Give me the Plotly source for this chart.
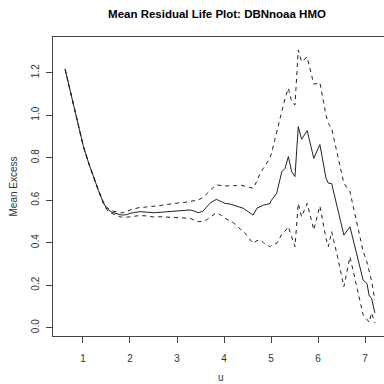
import plotly.graph_objects as go

u = [0.62, 0.70, 0.79, 0.90, 1.01, 1.12, 1.22, 1.33, 1.43, 1.50, 1.60, 1.72, 1.82, 1.93,
     2.00, 2.10, 2.21, 2.35, 2.50, 2.64, 2.78, 2.92, 3.06, 3.17, 3.28, 3.38, 3.45, 3.55,
     3.63, 3.70, 3.77, 3.84, 3.93, 4.02, 4.13, 4.20, 4.27, 4.34, 4.41, 4.52, 4.62, 4.70,
     4.77, 4.84, 4.91, 4.98, 5.01, 5.12, 5.23, 5.30, 5.37, 5.44, 5.51, 5.58, 5.65, 5.77,
     5.91, 6.04, 6.17, 6.22, 6.29, 6.42, 6.55, 6.68, 6.82, 6.96, 7.04, 7.09, 7.14, 7.21]

mean_excess = [1.216, 1.140, 1.056, 0.950, 0.852, 0.775, 0.711, 0.645, 0.590, 0.562, 0.545, 0.535, 0.530, 0.532,
               0.538, 0.542, 0.546, 0.544, 0.541, 0.543, 0.546, 0.548, 0.551, 0.553, 0.554, 0.548, 0.541, 0.548,
               0.569, 0.585, 0.596, 0.604, 0.595, 0.585, 0.582, 0.577, 0.575, 0.569, 0.562, 0.545, 0.530, 0.562,
               0.570, 0.577, 0.580, 0.585, 0.600, 0.632, 0.734, 0.750, 0.805, 0.734, 0.711, 0.946, 0.887, 0.927,
               0.797, 0.862, 0.703, 0.680, 0.679, 0.560, 0.436, 0.475, 0.350, 0.224, 0.209, 0.150, 0.138, 0.070]

upper_ci = [1.218, 1.142, 1.058, 0.952, 0.854, 0.777, 0.714, 0.648, 0.594, 0.567, 0.551, 0.543, 0.540, 0.545,
            0.554, 0.560, 0.566, 0.568, 0.570, 0.575, 0.580, 0.585, 0.588, 0.590, 0.593, 0.597, 0.601, 0.612,
            0.630, 0.645, 0.660, 0.672, 0.669, 0.667, 0.668, 0.668, 0.669, 0.672, 0.668, 0.660, 0.656, 0.690,
            0.727, 0.750, 0.774, 0.800, 0.821, 0.920, 1.025, 1.080, 1.127, 1.063, 1.048, 1.307, 1.252, 1.274,
            1.146, 1.153, 1.000, 0.962, 0.938, 0.800, 0.679, 0.640, 0.500, 0.360, 0.310, 0.270, 0.220, 0.130]

lower_ci = [1.214, 1.138, 1.054, 0.948, 0.850, 0.773, 0.708, 0.642, 0.586, 0.557, 0.539, 0.527, 0.520, 0.520,
            0.522, 0.526, 0.528, 0.526, 0.521, 0.522, 0.520, 0.518, 0.517, 0.516, 0.515, 0.505, 0.499, 0.501,
            0.507, 0.520, 0.532, 0.541, 0.530, 0.515, 0.502, 0.494, 0.480, 0.465, 0.455, 0.425, 0.397, 0.410,
            0.413, 0.400, 0.390, 0.381, 0.388, 0.397, 0.440, 0.455, 0.475, 0.428, 0.381, 0.585, 0.522, 0.585,
            0.460, 0.573, 0.420, 0.381, 0.452, 0.330, 0.193, 0.334, 0.200, 0.060, 0.040, 0.025, 0.070, 0.022]

x_ticks = [1, 2, 3, 4, 5, 6, 7]
y_ticks = [0.0, 0.2, 0.4, 0.6, 0.8, 1.0, 1.2]
y_tick_labels = ["0.0", "0.2", "0.4", "0.6", "0.8", "1.0", "1.2"]

title_text = "Mean Residual Life Plot: DBNnoaa HMO"
x_title = "u"
y_title = "Mean Excess"

line_col = "#222222"
axis_col = "#444444"
font_fam = "Liberation Sans, Arial, sans-serif"

fig = go.Figure()
fig.add_trace(go.Scatter(x=u, y=upper_ci, mode="lines",
                         line=dict(color=line_col, width=1, dash="4px,4px"), showlegend=False))
fig.add_trace(go.Scatter(x=u, y=lower_ci, mode="lines",
                         line=dict(color=line_col, width=1, dash="4px,4px"), showlegend=False))
fig.add_trace(go.Scatter(x=u, y=mean_excess, mode="lines",
                         line=dict(color=line_col, width=1), showlegend=False))

fig.update_layout(
    width=384, height=384,
    margin=dict(l=53, r=0, t=37, b=48),
    paper_bgcolor="white", plot_bgcolor="white",
    font=dict(family=font_fam, size=10, color="#333333"),
    title=dict(text="<b>" + title_text + "</b>", x=217 / 384, xanchor="center",
               y=1 - 14 / 384, yanchor="middle", yref="container",
               font=dict(size=11.5, color="#000000", family=font_fam)),
    xaxis=dict(range=[0.362, 7.404], showgrid=False, zeroline=False,
               showline=True, mirror=True, linecolor=axis_col, linewidth=1,
               tickvals=x_ticks, ticks="outside", ticklen=6, tickcolor=axis_col,
               ticklabelstandoff=7, tickfont=dict(size=10, color="#333333")),
    yaxis=dict(range=[-0.039, 1.368], showgrid=False, zeroline=False,
               showline=True, linecolor=axis_col, linewidth=1,
               tickvals=y_ticks, ticktext=y_tick_labels, ticks="outside", ticklen=6,
               tickcolor=axis_col, tickangle=-90, ticklabelstandoff=3,
               tickfont=dict(size=10, color="#333333")),
    annotations=[
        dict(text=x_title, xref="paper", yref="paper", x=0.508, y=0, yshift=-41,
             xanchor="center", yanchor="middle", showarrow=False,
             font=dict(size=10, color="#333333")),
        dict(text=y_title, xref="paper", yref="paper", x=0, xshift=-40, y=0.5,
             xanchor="center", yanchor="middle", textangle=-90, showarrow=False,
             font=dict(size=10, color="#333333")),
    ],
)

fig.write_html("out.html")
